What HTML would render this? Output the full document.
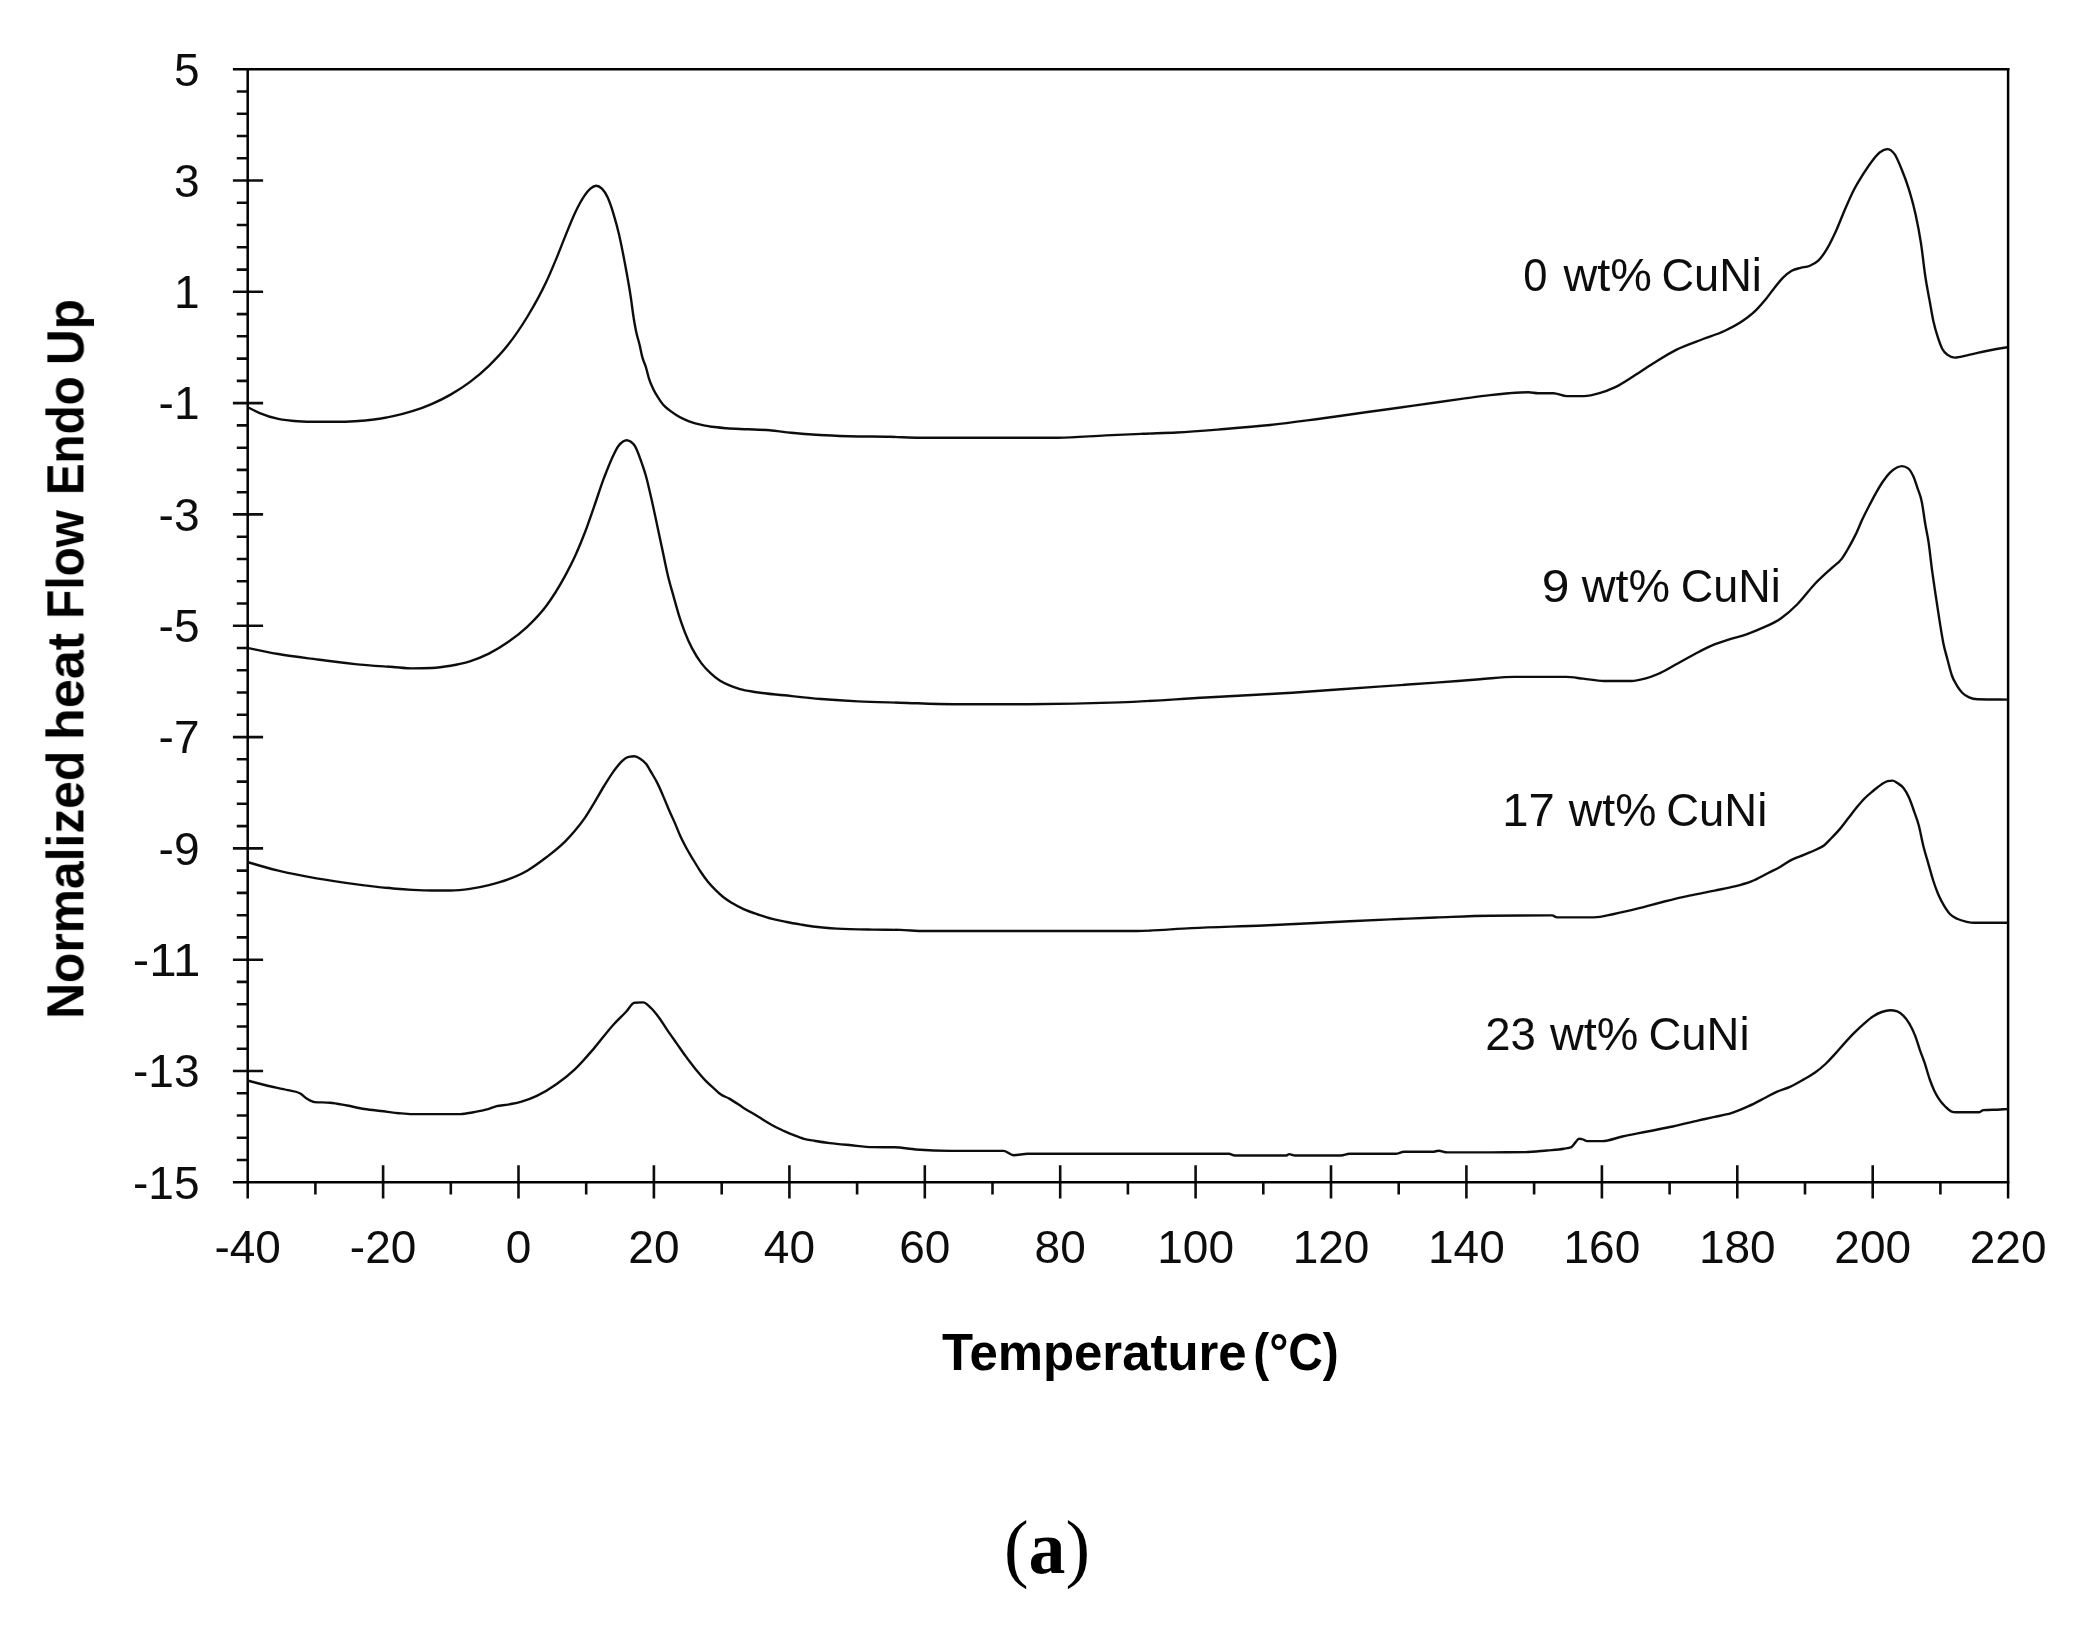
<!DOCTYPE html>
<html lang="en">
<head>
<meta charset="utf-8">
<title>DSC heat flow curves (a)</title>
<style>
html,body{margin:0;padding:0;background:#fff;}
body{width:2089px;height:1629px;overflow:hidden;}
svg{display:block;}
.t{font-family:"Liberation Sans",sans-serif;font-size:46px;fill:#111;}
.l{font-family:"Liberation Sans",sans-serif;font-size:46px;fill:#111;}
.b{font-family:"Liberation Sans",sans-serif;font-weight:bold;font-size:52.5px;fill:#000;}
.s{font-family:"Liberation Serif",serif;font-size:77px;fill:#000;}
.ax{stroke:#000;stroke-width:2.5;fill:none;stroke-linecap:butt;}
.tk{stroke:#111;stroke-width:2.6;fill:none;}
.cv{stroke:#111;stroke-width:2.4;fill:none;stroke-linejoin:round;stroke-linecap:butt;}
</style>
</head>
<body>
<svg width="2089" height="1629" viewBox="0 0 2089 1629">
<defs><filter id="soft" x="0" y="0" width="2089" height="1629" filterUnits="userSpaceOnUse"><feGaussianBlur stdDeviation="0.55"/></filter></defs>
<rect x="0" y="0" width="2089" height="1629" fill="#fff"/>
<g filter="url(#soft)">
<path class="tk" d="M236.8,91.5H247.7M236.8,113.7H247.7M236.8,136.0H247.7M236.8,158.2H247.7M232.9,180.5H263.1M236.8,202.8H247.7M236.8,225.0H247.7M236.8,247.3H247.7M236.8,269.6H247.7M232.9,291.8H263.1M236.8,314.1H247.7M236.8,336.3H247.7M236.8,358.6H247.7M236.8,380.9H247.7M232.9,403.1H263.1M236.8,425.4H247.7M236.8,447.7H247.7M236.8,469.9H247.7M236.8,492.2H247.7M232.9,514.4H263.1M236.8,536.7H247.7M236.8,559.0H247.7M236.8,581.2H247.7M236.8,603.5H247.7M232.9,625.8H263.1M236.8,648.0H247.7M236.8,670.3H247.7M236.8,692.5H247.7M236.8,714.8H247.7M232.9,737.1H263.1M236.8,759.3H247.7M236.8,781.6H247.7M236.8,803.8H247.7M236.8,826.1H247.7M232.9,848.4H263.1M236.8,870.6H247.7M236.8,892.9H247.7M236.8,915.2H247.7M236.8,937.4H247.7M232.9,959.7H263.1M236.8,981.9H247.7M236.8,1004.2H247.7M236.8,1026.5H247.7M236.8,1048.7H247.7M232.9,1071.0H263.1M236.8,1093.3H247.7M236.8,1115.5H247.7M236.8,1137.8H247.7M236.8,1160.0H247.7M315.4,1182.3V1194.5M383.1,1165.3V1198.4M450.8,1182.3V1194.5M518.5,1165.3V1198.4M586.2,1182.3V1194.5M653.9,1165.3V1198.4M721.7,1182.3V1194.5M789.4,1165.3V1198.4M857.1,1182.3V1194.5M924.8,1165.3V1198.4M992.5,1182.3V1194.5M1060.2,1165.3V1198.4M1127.9,1182.3V1194.5M1195.6,1165.3V1198.4M1263.3,1182.3V1194.5M1331.0,1165.3V1198.4M1398.7,1182.3V1194.5M1466.4,1165.3V1198.4M1534.1,1182.3V1194.5M1601.9,1165.3V1198.4M1669.6,1182.3V1194.5M1737.3,1165.3V1198.4M1805.0,1182.3V1194.5M1872.7,1165.3V1198.4M1940.4,1182.3V1194.5"/>
<path class="ax" d="M232.9,69.2H2009.6M247.7,69.2V1198.4M2008.1,69.2V1198.4M232.9,1182.3H2009.6"/>
<path class="cv" d="M247.4,407.0C251.3,409.1 255.2,411.1 259.1,412.8C265.5,415.5 271.9,417.5 278.3,418.9C284.7,420.3 291.0,420.8 297.4,421.2C303.8,421.6 310.2,421.8 316.6,421.8C323.0,421.8 329.3,421.8 335.7,421.8C342.1,421.8 348.5,421.6 354.9,421.2C361.3,420.8 367.6,420.3 374.0,419.5C380.4,418.7 386.8,417.6 393.2,416.2C399.6,414.8 405.9,413.2 412.3,411.2C418.7,409.2 425.1,406.9 431.5,404.1C437.9,401.3 444.2,398.3 450.6,394.6C457.0,390.9 463.4,386.9 469.8,382.1C476.2,377.3 482.5,372.0 488.9,365.8C495.3,359.6 501.7,353.0 508.1,344.8C514.5,336.7 520.8,327.5 527.2,317.0C533.6,306.4 540.0,295.4 546.4,281.6C549.6,274.8 552.7,267.2 555.9,259.6C559.1,251.9 562.3,243.4 565.5,235.6C568.7,227.8 571.9,219.4 575.1,212.7C578.3,206.0 581.5,199.9 584.7,195.4C586.6,192.7 588.5,190.3 590.4,188.7C592.3,187.1 594.3,185.8 596.2,185.8C598.1,185.8 600.0,186.8 601.9,188.7C603.8,190.6 605.7,193.2 607.6,197.3C609.5,201.5 611.5,207.3 613.4,213.6C615.3,219.8 617.2,226.5 619.1,234.7C621.0,243.1 623.0,253.1 624.9,263.4C626.8,273.5 628.7,283.5 630.6,296.0C631.7,303.0 632.7,312.1 633.8,318.7C634.5,323.2 635.3,327.3 636.0,330.9C637.2,336.6 638.3,339.6 639.5,344.5C640.5,348.6 641.4,353.8 642.4,357.4C643.6,361.9 644.8,363.5 646.0,367.5C647.0,370.7 647.9,375.2 648.9,378.3C650.3,382.9 651.8,385.9 653.2,389.0C654.9,392.6 656.5,395.1 658.2,397.7C659.9,400.3 661.5,402.9 663.2,404.8C665.1,407.1 667.1,408.4 669.0,409.9C671.4,411.8 673.8,413.4 676.2,414.9C678.6,416.4 681.0,417.7 683.4,418.9C685.8,420.0 688.1,421.0 690.5,421.8C693.9,423.0 697.2,423.9 700.6,424.7C704.4,425.6 708.3,426.2 712.1,426.8C716.9,427.5 721.6,427.8 726.4,428.2C733.6,428.8 740.8,428.9 748.0,429.3C755.2,429.6 762.3,429.7 769.5,430.3C776.7,430.9 783.9,432.1 791.1,432.8C800.7,433.7 810.2,434.4 819.8,435.0C829.4,435.6 838.9,435.9 848.5,436.2C862.3,436.6 876.2,436.5 890.0,436.8C900.1,437.0 910.1,437.7 920.2,437.7C966.2,437.7 1012.1,437.7 1058.1,437.7C1074.1,437.7 1090.0,436.1 1106.0,435.4C1118.1,434.8 1130.2,434.3 1142.3,433.8C1153.8,433.3 1165.3,433.1 1176.8,432.5C1192.8,431.7 1208.7,430.3 1224.7,429.0C1239.8,427.8 1254.9,426.6 1270.0,425.0C1286.0,423.3 1301.9,421.1 1317.9,419.0C1333.8,416.9 1349.8,414.5 1365.7,412.3C1381.7,410.1 1397.6,407.8 1413.6,405.6C1429.6,403.4 1445.5,401.1 1461.5,398.9C1471.1,397.6 1480.6,396.2 1490.2,395.1C1496.6,394.4 1503.0,393.7 1509.4,393.2C1515.8,392.7 1522.1,392.2 1528.5,392.2C1531.7,392.2 1534.9,393.2 1538.1,393.2C1543.2,393.2 1548.3,393.2 1553.4,393.2C1557.9,393.2 1562.3,396.1 1566.8,396.1C1572.5,396.1 1578.3,396.1 1584.0,396.1C1589.1,396.1 1594.3,394.7 1599.4,393.2C1604.5,391.8 1609.6,389.8 1614.7,387.4C1621.1,384.4 1627.4,380.0 1633.8,376.0C1640.2,372.0 1646.6,367.5 1653.0,363.5C1660.9,358.6 1668.7,353.5 1676.6,349.6C1685.4,345.2 1694.3,342.4 1703.1,339.0C1710.2,336.3 1717.3,334.3 1724.4,331.0C1730.3,328.2 1736.2,325.4 1742.1,321.3C1746.8,318.0 1751.6,314.5 1756.3,309.8C1759.2,306.9 1762.2,303.5 1765.1,300.0C1768.1,296.4 1771.0,292.2 1774.0,288.5C1776.9,284.8 1779.9,280.8 1782.8,277.9C1785.8,274.9 1788.7,272.5 1791.7,270.8C1794.7,269.1 1797.6,268.6 1800.6,267.8C1803.5,267.0 1806.5,267.2 1809.4,266.0C1812.4,264.8 1815.3,263.6 1818.3,260.7C1821.2,257.8 1824.2,253.6 1827.1,248.7C1830.1,243.7 1833.0,237.5 1836.0,231.0C1838.9,224.5 1841.9,216.5 1844.8,209.7C1847.8,202.9 1850.7,196.0 1853.7,190.2C1856.6,184.5 1859.6,179.9 1862.5,175.2C1865.5,170.5 1868.4,165.8 1871.4,161.9C1874.4,158.1 1877.3,154.2 1880.3,152.1C1882.6,150.4 1885.0,149.1 1887.3,149.1C1889.7,149.1 1892.0,150.7 1894.4,153.9C1896.8,157.1 1899.1,163.2 1901.5,169.0C1903.9,174.8 1906.2,180.7 1908.6,188.4C1911.0,196.1 1913.3,203.9 1915.7,215.0C1917.5,223.2 1919.2,231.7 1921.0,243.4C1922.5,253.1 1923.9,267.3 1925.4,277.0C1926.9,286.7 1928.3,293.7 1929.8,301.8C1931.0,308.4 1932.2,315.8 1933.4,321.3C1934.9,328.1 1936.3,332.6 1937.8,337.2C1939.3,341.8 1940.7,345.8 1942.2,348.7C1944.0,352.2 1945.8,353.5 1947.6,354.9C1949.9,356.7 1952.3,357.6 1954.6,357.6C1959.3,357.6 1964.1,355.9 1968.8,354.9C1974.7,353.7 1980.6,352.2 1986.5,351.0C1993.5,349.6 2000.5,348.4 2007.5,347.3"/>
<path class="cv" d="M247.4,647.8C257.7,650.0 268.0,652.2 278.3,654.0C291.1,656.2 303.8,657.7 316.6,659.4C329.4,661.1 342.1,662.8 354.9,664.1C367.7,665.4 380.4,666.1 393.2,667.0C399.6,667.5 405.9,668.4 412.3,668.4C418.7,668.4 425.1,668.3 431.5,668.0C437.9,667.7 444.2,666.8 450.6,665.7C457.0,664.6 463.4,663.3 469.8,661.3C476.2,659.3 482.5,656.8 488.9,653.6C495.3,650.4 501.7,646.6 508.1,642.1C514.5,637.6 520.8,632.8 527.2,626.8C533.6,620.7 540.0,614.3 546.4,605.7C552.8,597.1 559.1,586.9 565.5,575.1C568.7,569.1 571.9,563.0 575.1,556.0C578.3,549.0 581.5,541.3 584.7,533.0C587.9,524.8 591.0,515.4 594.2,506.3C597.4,497.2 600.6,486.9 603.8,478.4C606.4,471.6 608.9,465.0 611.5,459.4C613.8,454.4 616.1,449.1 618.4,446.0C619.9,443.9 621.5,442.5 623.0,441.5C624.2,440.7 625.5,440.2 626.7,440.2C628.0,440.2 629.2,440.8 630.5,441.6C632.0,442.6 633.5,443.7 635.0,446.2C636.8,449.2 638.7,454.5 640.5,459.5C642.3,464.5 644.2,469.6 646.0,476.2C647.9,482.9 649.7,491.4 651.6,499.6C653.4,507.7 655.3,516.5 657.1,525.0C658.9,533.5 660.8,542.2 662.6,550.8C664.4,559.4 666.3,568.9 668.1,576.5C670.0,584.3 671.8,590.1 673.7,596.8C675.5,603.3 677.4,610.3 679.2,616.1C681.0,621.9 682.9,627.0 684.7,631.8C687.2,638.2 689.6,643.6 692.1,648.4C695.2,654.4 698.2,659.0 701.3,663.1C704.4,667.2 707.4,670.3 710.5,673.2C713.6,676.1 716.6,678.6 719.7,680.6C722.8,682.6 725.8,683.9 728.9,685.2C732.6,686.8 736.3,688.1 740.0,689.2C745.5,690.8 751.0,691.3 756.5,692.2C765.7,693.6 775.0,694.3 784.2,695.3C796.5,696.6 808.7,698.0 821.0,699.0C833.3,700.0 845.5,700.8 857.8,701.4C871.9,702.1 885.9,702.3 900.0,702.7C917.7,703.2 935.5,704.2 953.2,704.2C978.1,704.2 1003.0,704.2 1027.9,704.2C1058.5,704.2 1089.2,703.6 1119.8,702.4C1148.5,701.3 1177.2,699.1 1205.9,697.5C1234.6,695.9 1263.4,694.5 1292.1,692.7C1320.8,690.9 1349.6,688.6 1378.3,686.6C1397.4,685.3 1416.6,684.0 1435.7,682.6C1450.5,681.5 1465.2,680.4 1480.0,679.3C1491.5,678.5 1502.9,676.9 1514.4,676.9C1531.6,676.9 1548.8,676.9 1566.0,676.9C1571.7,676.9 1577.4,678.0 1583.1,678.6C1590.0,679.3 1596.9,681.0 1603.8,681.0C1613.0,681.0 1622.1,681.0 1631.3,681.0C1635.9,681.0 1640.4,679.8 1645.0,678.6C1650.2,677.2 1655.3,675.2 1660.5,672.9C1666.2,670.3 1672.0,666.6 1677.7,663.5C1683.4,660.4 1689.2,657.0 1694.9,654.0C1700.6,651.0 1706.4,647.8 1712.1,645.4C1717.8,643.0 1723.6,641.2 1729.3,639.4C1735.0,637.5 1740.8,636.3 1746.5,634.3C1752.2,632.3 1757.9,630.0 1763.6,627.4C1769.3,624.8 1775.1,622.5 1780.8,618.5C1786.4,614.6 1792.0,609.7 1797.6,604.0C1803.3,598.2 1809.1,590.0 1814.8,584.0C1820.4,578.1 1826.0,573.3 1831.6,568.1C1835.0,564.9 1838.5,563.2 1841.9,558.6C1844.2,555.5 1846.5,551.4 1848.8,547.4C1851.1,543.4 1853.3,539.3 1855.6,534.6C1857.9,529.9 1860.2,524.0 1862.5,519.1C1864.8,514.2 1867.1,509.8 1869.4,505.3C1871.7,500.9 1874.0,496.4 1876.3,492.4C1878.6,488.4 1880.8,484.6 1883.1,481.3C1885.4,478.0 1887.7,475.0 1890.0,472.7C1892.3,470.4 1894.6,468.6 1896.9,467.5C1898.6,466.7 1900.4,466.1 1902.1,466.1C1904.1,466.1 1906.1,466.9 1908.1,468.4C1909.8,469.7 1911.5,472.4 1913.2,476.1C1914.6,479.3 1916.1,483.8 1917.5,488.1C1918.9,492.4 1920.4,494.8 1921.8,501.9C1923.0,507.7 1924.1,517.2 1925.3,524.2C1926.4,531.0 1927.6,535.3 1928.7,543.1C1929.8,550.8 1931.0,562.2 1932.1,570.7C1933.3,579.4 1934.4,586.9 1935.6,594.7C1936.7,602.3 1937.9,609.9 1939.0,617.1C1940.4,626.2 1941.9,635.8 1943.3,642.9C1944.7,650.0 1946.2,654.6 1947.6,660.0C1949.0,665.4 1950.5,671.4 1951.9,675.5C1953.6,680.5 1955.4,682.9 1957.1,685.8C1958.8,688.6 1960.5,690.9 1962.2,692.7C1964.5,695.1 1966.8,696.3 1969.1,697.3C1972.0,698.6 1974.8,699.1 1977.7,699.2C1987.6,699.5 1997.6,699.5 2007.5,699.6"/>
<path class="cv" d="M247.4,862.0C257.7,865.1 268.0,868.2 278.3,870.7C291.1,873.8 303.8,876.2 316.6,878.4C329.4,880.6 342.1,882.4 354.9,884.1C367.7,885.8 380.4,887.4 393.2,888.5C399.6,889.1 405.9,889.6 412.3,889.9C418.7,890.2 425.1,890.5 431.5,890.5C437.9,890.5 444.2,890.5 450.6,890.5C457.0,890.5 463.4,889.8 469.8,888.9C476.2,888.0 482.5,886.7 488.9,885.1C495.3,883.5 501.7,881.8 508.1,879.4C514.5,877.0 520.8,874.4 527.2,870.7C533.6,867.0 540.0,862.2 546.4,857.3C552.8,852.4 559.1,847.6 565.5,841.1C568.7,837.8 571.9,834.3 575.1,830.5C578.3,826.7 581.5,822.7 584.7,818.1C587.9,813.5 591.0,808.0 594.2,802.8C597.4,797.5 600.6,791.7 603.8,786.5C607.0,781.3 610.2,776.0 613.4,771.6C616.1,767.9 618.8,764.1 621.5,761.6C623.9,759.4 626.3,757.4 628.7,756.9C630.6,756.5 632.6,756.3 634.5,756.3C636.4,756.3 638.3,757.5 640.2,758.7C642.1,760.0 644.1,761.4 646.0,763.8C647.9,766.2 649.8,769.9 651.7,773.1C653.6,776.3 655.5,779.3 657.4,783.1C659.3,787.0 661.3,791.6 663.2,796.1C665.1,800.5 667.0,805.3 668.9,809.7C670.8,814.2 672.8,818.1 674.7,822.6C676.6,827.0 678.5,832.1 680.4,836.3C682.3,840.5 684.3,844.2 686.2,847.8C688.6,852.2 691.0,856.0 693.4,860.0C695.8,863.9 698.1,867.9 700.5,871.5C702.9,875.1 705.3,878.5 707.7,881.5C710.1,884.5 712.5,887.0 714.9,889.4C717.8,892.3 720.6,895.0 723.5,897.3C726.4,899.6 729.2,901.3 732.1,903.1C735.9,905.4 739.8,907.4 743.6,909.2C748.4,911.4 753.2,912.9 758.0,914.5C762.8,916.1 767.5,917.7 772.3,918.9C777.1,920.2 781.9,921.0 786.7,922.0C791.5,923.0 796.3,923.8 801.1,924.6C805.9,925.4 810.6,926.2 815.4,926.8C822.6,927.7 829.8,928.2 837.0,928.6C849.0,929.3 860.9,929.4 872.9,929.6C881.9,929.8 891.0,929.7 900.0,929.9C908.2,930.1 916.3,931.0 924.5,931.0C995.3,931.0 1066.2,931.0 1137.0,931.0C1155.2,931.0 1173.4,928.9 1191.6,928.1C1215.5,927.0 1239.5,926.5 1263.4,925.5C1292.1,924.3 1320.8,922.5 1349.5,921.2C1378.2,919.9 1407.0,918.5 1435.7,917.5C1453.8,916.9 1471.9,916.0 1490.0,915.8C1510.7,915.5 1531.3,915.4 1552.0,915.4C1553.7,915.4 1555.4,917.4 1557.1,917.4C1569.4,917.4 1581.6,917.4 1593.9,917.4C1600.6,917.4 1607.3,915.3 1614.0,914.0C1622.4,912.4 1630.8,910.3 1639.2,908.2C1647.6,906.1 1655.9,903.6 1664.3,901.5C1672.7,899.4 1681.0,897.4 1689.4,895.6C1697.8,893.8 1706.2,892.3 1714.6,890.6C1721.3,889.2 1728.0,888.1 1734.7,886.4C1740.3,885.0 1745.8,883.6 1751.4,881.4C1757.0,879.2 1762.6,875.8 1768.2,873.0C1772.1,871.0 1776.1,869.2 1780.0,867.0C1784.0,864.8 1788.0,861.6 1792.0,859.6C1796.0,857.6 1799.9,856.4 1803.9,854.8C1807.9,853.1 1811.9,851.7 1815.9,849.7C1818.7,848.3 1821.5,847.4 1824.3,845.2C1826.7,843.3 1829.1,840.5 1831.5,838.0C1834.3,835.1 1837.0,832.4 1839.8,829.1C1842.6,825.8 1845.4,821.9 1848.2,818.3C1851.0,814.7 1853.8,810.9 1856.6,807.5C1859.4,804.1 1862.2,800.8 1865.0,798.0C1867.8,795.2 1870.5,793.1 1873.3,790.8C1876.1,788.5 1878.9,785.9 1881.7,784.2C1883.7,783.0 1885.7,781.7 1887.7,781.2C1889.3,780.8 1890.9,780.6 1892.5,780.6C1894.1,780.6 1895.7,782.0 1897.3,783.0C1899.3,784.3 1901.3,785.3 1903.3,787.8C1905.3,790.3 1907.2,793.5 1909.2,798.0C1910.8,801.6 1912.4,806.5 1914.0,811.1C1915.6,815.7 1917.2,819.5 1918.8,825.5C1920.4,831.5 1922.0,840.6 1923.6,847.0C1925.2,853.4 1926.8,858.2 1928.4,863.8C1930.0,869.4 1931.6,875.5 1933.2,880.5C1934.8,885.5 1936.4,889.8 1938.0,893.7C1940.0,898.5 1942.0,902.3 1944.0,905.7C1946.0,909.0 1947.9,911.9 1949.9,914.0C1952.3,916.6 1954.7,917.6 1957.1,918.8C1960.3,920.4 1963.5,921.1 1966.7,921.8C1969.1,922.3 1971.5,922.8 1973.9,922.8C1985.1,922.8 1996.3,922.8 2007.5,922.8"/>
<path class="cv" d="M247.4,1080.5C254.5,1082.4 261.6,1084.3 268.7,1086.0C275.1,1087.5 281.5,1088.6 287.9,1090.2C292.0,1091.2 296.2,1091.3 300.3,1093.5C302.5,1094.7 304.8,1097.4 307.0,1098.8C309.6,1100.4 312.1,1101.9 314.7,1102.1C319.8,1102.5 324.9,1102.3 330.0,1102.7C335.7,1103.1 341.5,1104.5 347.2,1105.5C353.0,1106.6 358.7,1108.1 364.5,1109.0C370.9,1110.0 377.2,1110.5 383.6,1111.3C388.7,1111.9 393.8,1112.7 398.9,1113.2C403.4,1113.6 407.8,1114.1 412.3,1114.1C418.7,1114.1 425.1,1114.1 431.5,1114.1C441.1,1114.1 450.6,1114.1 460.2,1114.1C464.7,1114.1 469.1,1113.0 473.6,1112.2C478.1,1111.4 482.5,1110.7 487.0,1109.4C490.2,1108.5 493.4,1106.9 496.6,1106.1C500.4,1105.2 504.3,1105.3 508.1,1104.6C512.6,1103.8 517.0,1103.0 521.5,1101.7C526.6,1100.2 531.7,1098.3 536.8,1095.9C543.2,1092.9 549.6,1089.0 556.0,1084.5C562.4,1080.0 568.7,1075.2 575.1,1069.1C581.5,1063.0 587.8,1055.5 594.2,1048.1C600.6,1040.7 607.0,1031.7 613.4,1024.7C617.6,1020.1 621.7,1016.4 625.9,1012.0C628.8,1009.0 631.6,1003.1 634.5,1002.8C637.4,1002.5 640.2,1002.4 643.1,1002.4C645.5,1002.4 647.9,1005.2 650.3,1007.4C653.2,1010.0 656.0,1013.6 658.9,1017.4C661.8,1021.2 664.6,1026.2 667.5,1030.4C670.4,1034.6 673.2,1038.5 676.1,1042.6C679.5,1047.4 682.8,1052.3 686.2,1056.9C689.5,1061.4 692.9,1065.8 696.2,1069.9C699.6,1074.0 702.9,1078.0 706.3,1081.4C709.2,1084.3 712.0,1086.7 714.9,1089.3C716.8,1091.0 718.7,1092.9 720.6,1094.3C723.5,1096.4 726.4,1097.0 729.3,1098.6C734.1,1101.2 738.8,1104.9 743.6,1107.9C748.4,1110.9 753.2,1113.6 758.0,1116.5C762.8,1119.4 767.5,1122.6 772.3,1125.2C776.1,1127.3 780.0,1129.1 783.8,1130.9C787.2,1132.4 790.5,1133.9 793.9,1135.2C797.2,1136.5 800.6,1137.9 803.9,1138.8C807.7,1139.9 811.6,1140.3 815.4,1141.0C820.2,1141.8 825.0,1142.5 829.8,1143.1C837.0,1144.0 844.1,1144.6 851.3,1145.3C858.5,1146.0 865.7,1147.0 872.9,1147.1C880.1,1147.2 887.2,1147.2 894.4,1147.3C901.5,1147.4 908.7,1148.9 915.8,1149.5C927.3,1150.4 938.8,1150.9 950.3,1150.9C968.0,1150.9 985.8,1150.9 1003.5,1150.9C1006.8,1150.9 1010.2,1155.2 1013.5,1155.2C1018.3,1155.2 1023.1,1153.8 1027.9,1153.8C1094.9,1153.8 1161.9,1153.8 1228.9,1153.8C1230.8,1153.8 1232.8,1155.5 1234.7,1155.5C1251.9,1155.5 1269.2,1155.5 1286.4,1155.5C1287.3,1155.5 1288.3,1154.1 1289.2,1154.1C1291.1,1154.1 1293.1,1155.5 1295.0,1155.5C1310.3,1155.5 1325.6,1155.5 1340.9,1155.5C1343.8,1155.5 1346.6,1153.8 1349.5,1153.8C1364.8,1153.8 1380.2,1153.8 1395.5,1153.8C1398.4,1153.8 1401.2,1151.8 1404.1,1151.8C1413.7,1151.8 1423.2,1151.8 1432.8,1151.8C1434.7,1151.8 1436.7,1150.7 1438.6,1150.7C1441.5,1150.7 1444.3,1152.4 1447.2,1152.4C1461.5,1152.4 1475.7,1152.4 1490.0,1152.4C1501.7,1152.4 1513.5,1152.3 1525.2,1152.1C1532.5,1152.0 1539.7,1151.1 1547.0,1150.5C1552.6,1150.0 1558.2,1149.9 1563.8,1148.8C1566.3,1148.3 1568.8,1148.2 1571.3,1147.1C1572.7,1146.5 1574.1,1143.9 1575.5,1142.4C1576.6,1141.2 1577.8,1138.7 1578.9,1138.7C1580.0,1138.7 1581.1,1138.8 1582.2,1139.1C1583.9,1139.5 1585.5,1141.1 1587.2,1141.1C1592.2,1141.1 1597.3,1141.1 1602.3,1141.1C1609.0,1141.1 1615.7,1137.9 1622.4,1136.5C1630.8,1134.7 1639.1,1133.2 1647.5,1131.5C1655.9,1129.8 1664.3,1128.3 1672.7,1126.5C1681.1,1124.7 1689.4,1122.5 1697.8,1120.6C1703.4,1119.3 1709.0,1118.2 1714.6,1116.9C1720.2,1115.7 1725.7,1114.8 1731.3,1113.1C1736.9,1111.3 1742.5,1108.9 1748.1,1106.4C1753.7,1103.9 1759.2,1100.9 1764.8,1098.0C1768.7,1096.0 1772.7,1093.6 1776.6,1091.8C1781.1,1089.8 1785.5,1088.8 1790.0,1086.8C1794.5,1084.8 1798.9,1082.2 1803.4,1079.6C1807.3,1077.4 1811.2,1075.3 1815.1,1072.5C1818.6,1070.0 1822.0,1067.3 1825.5,1064.0C1828.7,1061.0 1831.9,1057.4 1835.1,1053.9C1838.3,1050.4 1841.4,1046.6 1844.6,1043.1C1847.8,1039.6 1851.0,1036.1 1854.2,1032.9C1857.4,1029.7 1860.6,1026.7 1863.8,1023.9C1867.0,1021.1 1870.1,1018.2 1873.3,1016.2C1876.1,1014.4 1878.9,1013.0 1881.7,1012.0C1884.5,1011.0 1887.3,1010.2 1890.1,1010.2C1892.5,1010.2 1894.9,1010.6 1897.3,1011.4C1899.3,1012.1 1901.3,1013.6 1903.3,1015.6C1905.3,1017.6 1907.2,1020.0 1909.2,1023.3C1911.2,1026.7 1913.2,1030.7 1915.2,1035.9C1916.8,1040.1 1918.4,1045.7 1920.0,1050.3C1921.6,1054.9 1923.2,1058.6 1924.8,1063.4C1926.4,1068.2 1928.0,1074.4 1929.6,1079.0C1931.2,1083.6 1932.8,1087.6 1934.4,1091.0C1936.0,1094.4 1937.6,1096.9 1939.2,1099.3C1941.2,1102.3 1943.2,1104.5 1945.2,1106.5C1947.2,1108.5 1949.1,1110.5 1951.1,1111.3C1952.7,1112.0 1954.3,1112.3 1955.9,1112.3C1963.5,1112.3 1971.1,1112.3 1978.7,1112.3C1980.3,1112.3 1981.9,1110.2 1983.5,1110.1C1989.1,1109.7 1994.6,1109.8 2000.2,1109.5C2002.6,1109.4 2005.1,1109.2 2007.5,1109.1"/>
<text class="t" x="199.5" y="85.5" text-anchor="end">5</text>
<text class="t" x="199.5" y="196.8" text-anchor="end">3</text>
<text class="t" x="199.5" y="308.1" text-anchor="end">1</text>
<text class="t" x="199.5" y="419.4" text-anchor="end">-1</text>
<text class="t" x="199.5" y="530.7" text-anchor="end">-3</text>
<text class="t" x="199.5" y="642.0" text-anchor="end">-5</text>
<text class="t" x="199.5" y="753.4" text-anchor="end">-7</text>
<text class="t" x="199.5" y="864.7" text-anchor="end">-9</text>
<text class="t" x="200.3" y="976.0" text-anchor="end" textLength="67.5" lengthAdjust="spacingAndGlyphs">-11</text>
<text class="t" x="199.5" y="1087.3" text-anchor="end">-13</text>
<text class="t" x="199.5" y="1198.6" text-anchor="end">-15</text>
<text class="t" x="247.7" y="1262.6" text-anchor="middle">-40</text>
<text class="t" x="383.1" y="1262.6" text-anchor="middle">-20</text>
<text class="t" x="518.5" y="1262.6" text-anchor="middle">0</text>
<text class="t" x="653.9" y="1262.6" text-anchor="middle">20</text>
<text class="t" x="789.4" y="1262.6" text-anchor="middle">40</text>
<text class="t" x="924.8" y="1262.6" text-anchor="middle">60</text>
<text class="t" x="1060.2" y="1262.6" text-anchor="middle">80</text>
<text class="t" x="1195.6" y="1262.6" text-anchor="middle">100</text>
<text class="t" x="1331.0" y="1262.6" text-anchor="middle">120</text>
<text class="t" x="1466.4" y="1262.6" text-anchor="middle">140</text>
<text class="t" x="1601.9" y="1262.6" text-anchor="middle">160</text>
<text class="t" x="1737.3" y="1262.6" text-anchor="middle">180</text>
<text class="t" x="1872.7" y="1262.6" text-anchor="middle">200</text>
<text class="t" x="2008.1" y="1262.6" text-anchor="middle">220</text>
<text class="l" y="290.8"><tspan x="1523.2" textLength="24.2" lengthAdjust="spacingAndGlyphs">0</tspan> <tspan x="1563.4" textLength="88.4" lengthAdjust="spacingAndGlyphs">wt%</tspan> <tspan x="1661.4" textLength="100.5" lengthAdjust="spacingAndGlyphs">CuNi</tspan></text>
<text class="l" y="601.6"><tspan x="1541.8" textLength="27.7" lengthAdjust="spacingAndGlyphs">9</tspan> <tspan x="1581.8" textLength="88.3" lengthAdjust="spacingAndGlyphs">wt%</tspan> <tspan x="1680.8" textLength="99.9" lengthAdjust="spacingAndGlyphs">CuNi</tspan></text>
<text class="l" y="825.6"><tspan x="1502.3" textLength="52.5" lengthAdjust="spacingAndGlyphs">17</tspan> <tspan x="1568.8" textLength="87.6" lengthAdjust="spacingAndGlyphs">wt%</tspan> <tspan x="1666.2" textLength="101.1" lengthAdjust="spacingAndGlyphs">CuNi</tspan></text>
<text class="l" y="1049.5"><tspan x="1485.3" textLength="50.5" lengthAdjust="spacingAndGlyphs">23</tspan> <tspan x="1549.9" textLength="88.4" lengthAdjust="spacingAndGlyphs">wt%</tspan> <tspan x="1648.4" textLength="101.1" lengthAdjust="spacingAndGlyphs">CuNi</tspan></text>
<text class="b" y="1369.8"><tspan x="942.1" textLength="304.5" lengthAdjust="spacingAndGlyphs">Temperature</tspan> <tspan x="1253.2" textLength="85.6" lengthAdjust="spacingAndGlyphs">(°C)</tspan></text>
<text class="b" transform="translate(83.4,1016.1) rotate(-90)" y="0"><tspan x="-2.8" textLength="268.1" lengthAdjust="spacingAndGlyphs">Normalized</tspan> <tspan x="276.1" textLength="107.1" lengthAdjust="spacingAndGlyphs">heat</tspan> <tspan x="397.3" textLength="108.7" lengthAdjust="spacingAndGlyphs">Flow</tspan> <tspan x="520.9" textLength="118.9" lengthAdjust="spacingAndGlyphs">Endo</tspan> <tspan x="651.0" textLength="66.1" lengthAdjust="spacingAndGlyphs">Up</tspan></text>
<text class="s" x="1004" y="1573.2" textLength="86" lengthAdjust="spacingAndGlyphs">(<tspan font-weight="bold">a</tspan>)</text>
</g>
</svg>
</body>
</html>
